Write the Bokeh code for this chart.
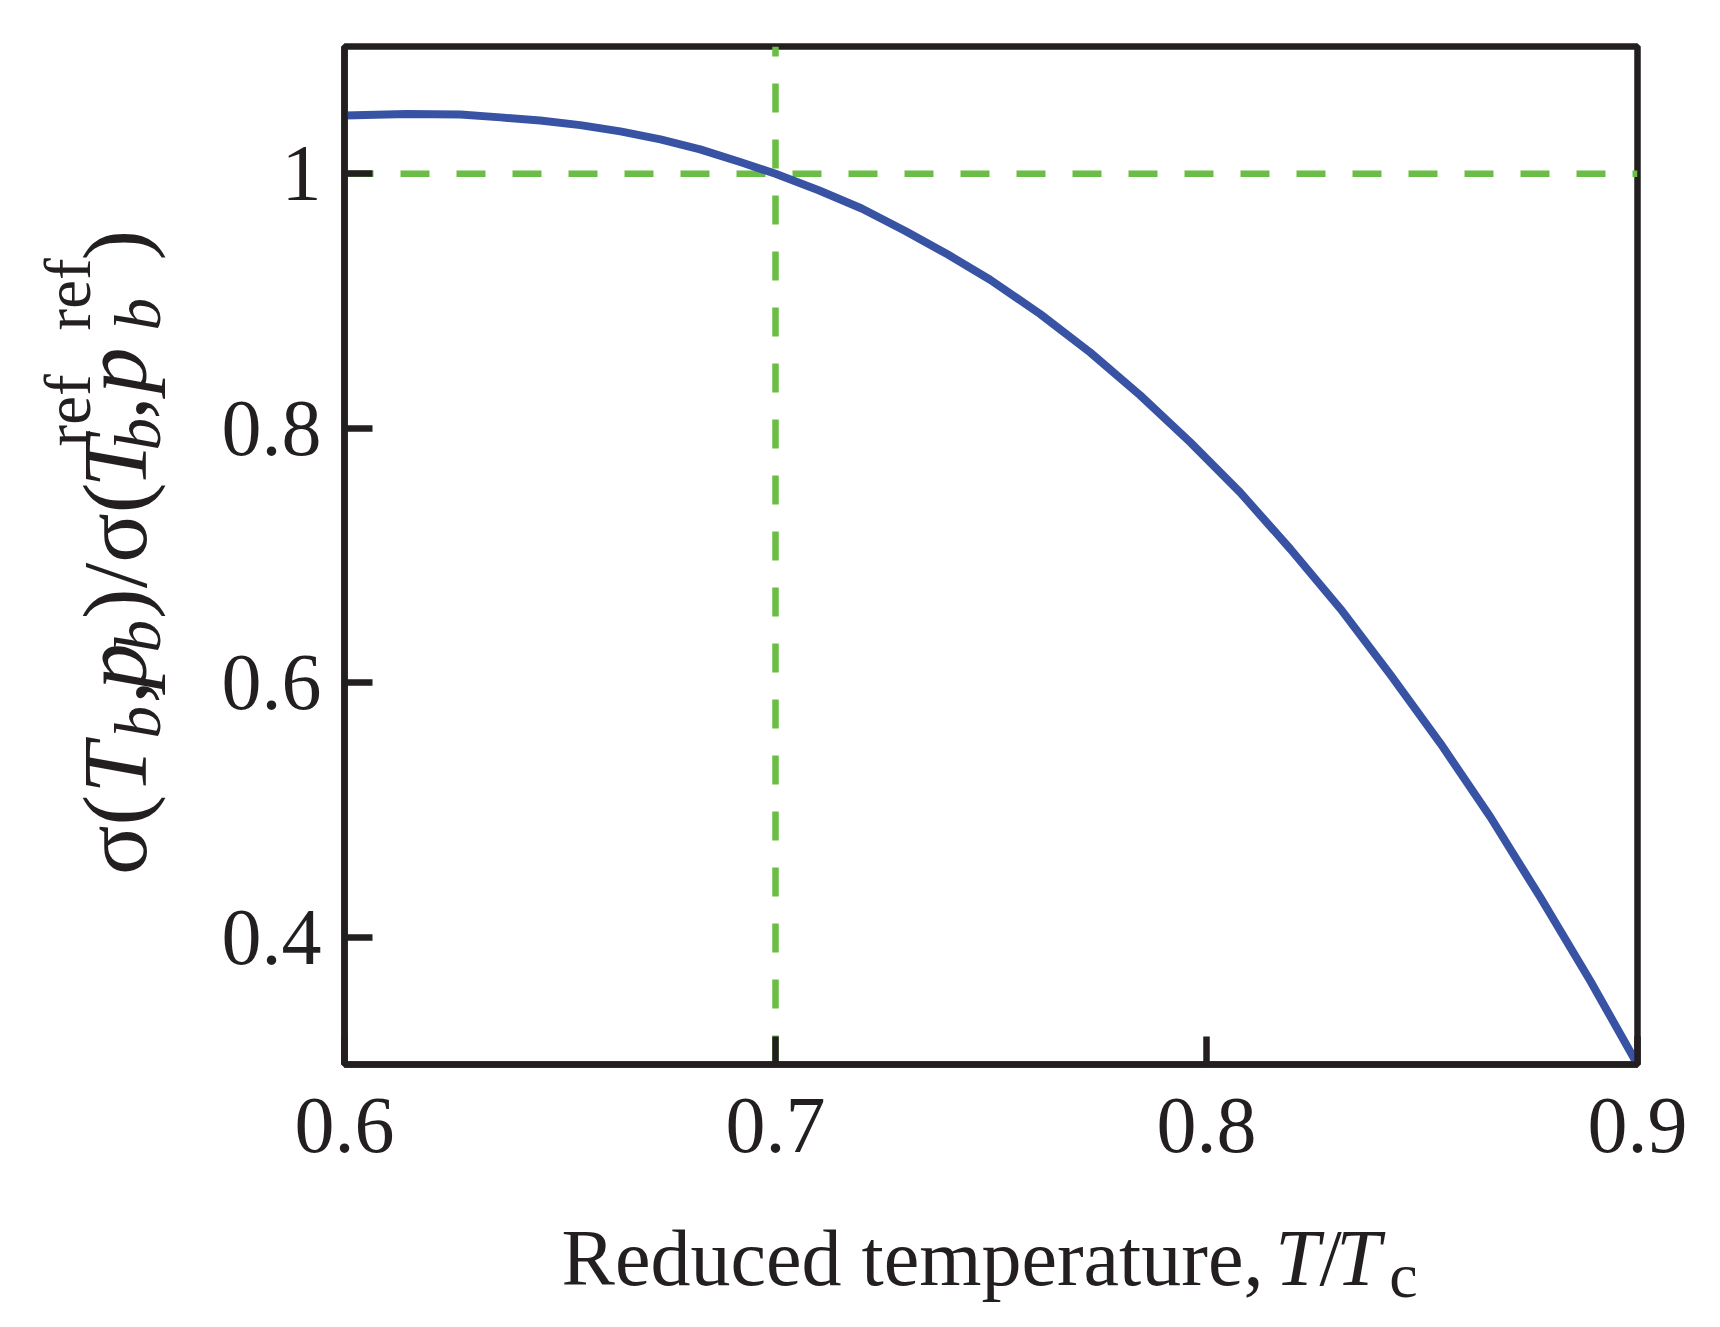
import math
from bokeh.plotting import figure
from bokeh.layouts import row, column
from bokeh.models import Range1d, FixedTicker, CustomJSTickFormatter, Label
from bokeh.embed import file_html
from bokeh.resources import INLINE

# ---- data ----
T_REDUCED = [0.6000, 0.6145, 0.6269, 0.6362, 0.6454, 0.6547, 0.6640, 0.6733,
             0.6825, 0.6918, 0.7000, 0.7100, 0.7200, 0.7300, 0.7400, 0.7498,
             0.7614, 0.7730, 0.7846, 0.7962, 0.8078, 0.8195, 0.8311, 0.8427,
             0.8543, 0.8659, 0.8775, 0.8891, 0.9000]
SIGMA_RATIO = [1.0457, 1.0470, 1.0465, 1.0443, 1.0418, 1.0382, 1.0333, 1.0270,
               1.0192, 1.0092, 1.0000, 0.9870, 0.9727, 0.9552, 0.9365, 0.9167,
               0.8898, 0.8596, 0.8259, 0.7891, 0.7496, 0.7049, 0.6580, 0.6062,
               0.5522, 0.4943, 0.4311, 0.3654, 0.3000]
REF_T = 0.7
REF_SIGMA = 1.0
X_TICKS = [0.6, 0.7, 0.8, 0.9]
Y_TICKS = [0.4, 0.6, 0.8, 1.0]
X_RANGE = (0.6, 0.9)
Y_RANGE = (0.3, 1.1)

# ---- layout (page pixels) ----
PAGE_W, PAGE_H = 1720, 1327
YL_W = 200                       # strip for the y-axis label
MAIN_H = 1200                    # main figure height
FRAME_L, FRAME_T = 344, 46
FRAME_W, FRAME_H = 1293, 1018
INK = "#231F20"
BLUE = "#3853A4"
GREEN = "#6ABD45"
SERIF = "Liberation Serif"
MID = 0.3375                     # em-box centre above the baseline

# advance widths (em) of the serif face
ADV = {"R": .667, "e": .444, "d": .5, "u": .5, "c": .444, " ": .25, "t": .278,
       "m": .778, "p": .5, "r": .333, "a": .444, ",": .25, "/": .278,
       "(": .333, ")": .333, "f": .333, "σ": .55, "T": .611, "b": .5}
ADV_IT = {"T": .556, "b": .5, "p": .5}


def adv(txt, style, size):
    table = ADV_IT if style == "italic" else {}
    return sum(table.get(ch, ADV.get(ch, .5)) for ch in txt) * size


main_w = PAGE_W - YL_W
p = figure(frame_width=FRAME_W, frame_height=FRAME_H,
           min_border_left=FRAME_L - YL_W, min_border_top=FRAME_T,
           min_border_right=main_w - (FRAME_L - YL_W) - FRAME_W,
           min_border_bottom=MAIN_H - FRAME_T - FRAME_H,
           x_range=Range1d(*X_RANGE), y_range=Range1d(*Y_RANGE),
           output_backend="svg", toolbar_location=None, title=None)

p.background_fill_color = "white"
p.border_fill_color = "white"
p.outline_line_color = INK
p.outline_line_width = 6.5
p.grid.visible = False

for ax in (p.xaxis[0], p.yaxis[0]):
    ax.axis_line_color = INK
    ax.axis_line_width = 6.5
    ax.major_tick_line_color = INK
    ax.major_tick_line_width = 6.5
    ax.major_tick_in = 28
    ax.major_tick_out = 0
    ax.minor_tick_line_color = None
    ax.major_label_text_font = SERIF
    ax.major_label_text_font_size = "80px"
    ax.major_label_text_color = INK
p.xaxis.major_label_standoff = 34
p.yaxis.major_label_standoff = 23

p.xaxis.ticker = FixedTicker(ticks=X_TICKS)
p.yaxis.ticker = FixedTicker(ticks=Y_TICKS)
p.xaxis.formatter = CustomJSTickFormatter(
    code="var s = tick.toFixed(1); return s == '1.0' ? '1' : s;")
p.yaxis.formatter = CustomJSTickFormatter(
    code="var s = tick.toFixed(1); return s == '1.0' ? '1' : s;")

# reference lines
p.line([X_RANGE[0], X_RANGE[1]], [REF_SIGMA, REF_SIGMA], line_color=GREEN,
       line_width=6.5, line_dash="29 27")
p.line([REF_T, REF_T], [Y_RANGE[0], Y_RANGE[1]], line_color=GREEN,
       line_width=6.5, line_dash="29 27")

# curve
p.line(T_REDUCED, SIGMA_RATIO, line_color=BLUE, line_width=8,
       line_join="round", line_cap="round")


def text_fig(w, h, x_range):
    f = figure(width=w, height=h, x_range=x_range, y_range=Range1d(0, h),
               min_border=0, x_axis_location=None, y_axis_location=None,
               output_backend="svg", toolbar_location=None, title=None)
    f.grid.visible = False
    f.outline_line_color = None
    f.background_fill_color = "white"
    f.border_fill_color = "white"
    return f


def add_text(f, px, y_from_top, h, txt, size, style="normal", angle=0.0):
    # px: x in the figure's data units; y_from_top: pixels below figure top
    f.add_layout(Label(x=px, y=h - y_from_top, text=txt, text_font=SERIF,
                       text_font_size=f"{size}px", text_font_style=style,
                       text_color=INK, text_align="center",
                       text_baseline="middle", angle=angle))


# x axis label strip: "Reduced temperature, T/Tc".
# In the column its frame is aligned with the main frame, so its x data
# units are page pixels over the main frame's span.
XL_H = PAGE_H - MAIN_H
xl = text_fig(main_w, XL_H, Range1d(FRAME_L, FRAME_L + FRAME_W))
XB = 1284           # baseline (page y)
for txt, cx, size, style, dy in [
        ("Reduced temperature,", 912, 80, "normal", 0),
        ("T", 1297, 80, "italic", 0),
        ("/", 1330, 80, "normal", 0),
        ("T", 1358, 80, "italic", 0),
        ("c", 1403, 64, "normal", 13)]:
    cy = XB + dy - MID * size - MAIN_H
    add_text(xl, cx, cy, XL_H, txt, size, style)

# y axis label strip (rotated text, reading upwards)
yl = text_fig(YL_W, PAGE_H, Range1d(0, YL_W))
YB = 146      # baseline (page x)
S0 = 875      # start of the text (page y)
SUB, SUP = 13, -57
MAIN_PX, SMALL_PX = 92, 65
pieces = [
    ("σ(", 0, "normal", MAIN_PX, 0),
    ("T", 82, "italic", MAIN_PX, 0),
    ("b", 137, "italic", SMALL_PX, SUB),
    (",", 172, "normal", MAIN_PX, 0),
    ("p", 186, "italic", MAIN_PX, 0),
    ("b", 223, "italic", SMALL_PX, SUB),
    (")/σ(", 256, "normal", MAIN_PX, 0),
    ("T", 388, "italic", MAIN_PX, 0),
    ("b", 425, "italic", SMALL_PX, SUB),
    ("ref", 429, "normal", SMALL_PX, SUP),
    (",", 456, "normal", MAIN_PX, 0),
    ("p", 482, "italic", MAIN_PX, 0),
    ("b", 545, "italic", SMALL_PX, SUB),
    ("ref", 545, "normal", SMALL_PX, SUP),
    (")", 615, "normal", MAIN_PX, 0),
]
for txt, s, style, size, off in pieces:
    cy = S0 - (s + adv(txt, style, size) / 2)
    cx = YB + off - MID * size
    add_text(yl, cx, cy, PAGE_H, txt, size, style, angle=math.pi / 2)

layout = row(yl, column(p, xl, spacing=0), spacing=0)
open("out.html", "w").write(file_html(layout, INLINE))
